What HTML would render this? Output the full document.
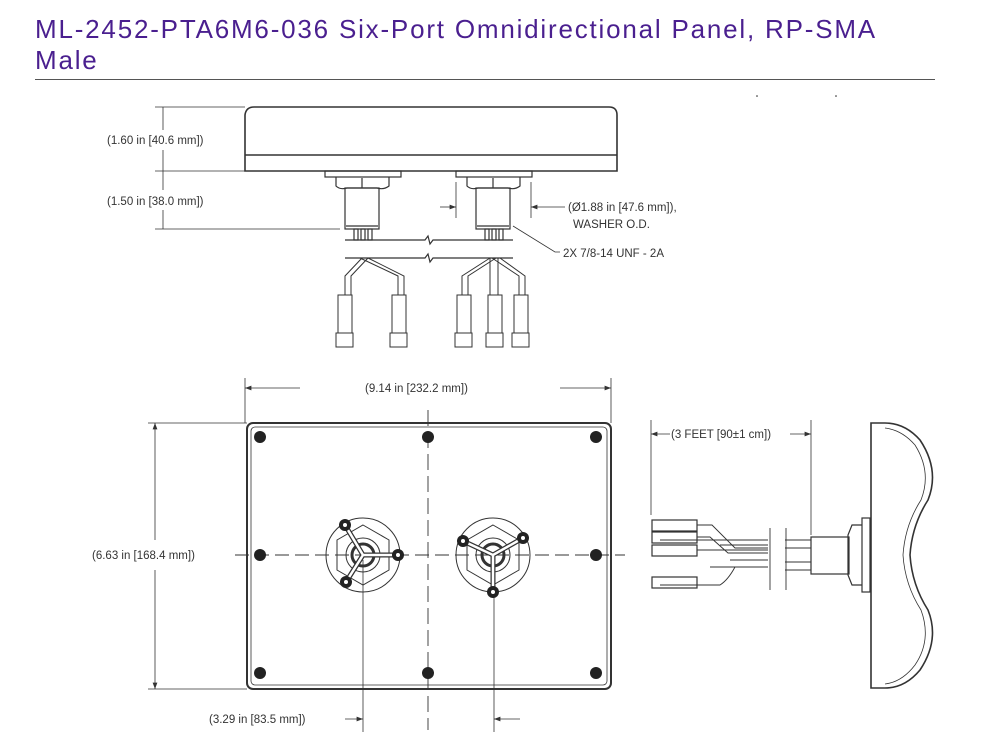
<!DOCTYPE html>
<html><head><meta charset="utf-8"><style>
html,body{margin:0;padding:0;background:#fff;width:999px;height:742px;overflow:hidden}
h1{position:absolute;left:35px;top:14px;margin:0;font:26px/31px "Liberation Sans",sans-serif;color:#4a1f8f;font-weight:normal;letter-spacing:1.8px}
.rule{position:absolute;left:35px;top:79px;width:900px;height:1px;background:#555}
svg{position:absolute;left:0;top:0}
text{font-family:"Liberation Sans",sans-serif;font-size:11.5px;fill:#333}
</style></head><body>
<h1>ML-2452-PTA6M6-036 Six-Port Omnidirectional Panel, RP-SMA<br>Male</h1>
<div class="rule"></div>
<svg width="999" height="742" viewBox="0 0 999 742">
<defs><marker id="a" markerWidth="8" markerHeight="6" refX="8" refY="3" orient="auto"><path d="M0,0L8,3L0,6z" fill="#333"/></marker></defs>
<g stroke="#333" fill="none" stroke-width="1.2">
<path d="M254,107 H609 Q617,107 617,115 V171 H245 L245,115 Q246,107 254,107" stroke-width="1.6"/>
<line x1="245" y1="155" x2="617" y2="155" stroke-width="1.5"/>
<line x1="155" y1="107" x2="245" y2="107" stroke-width="0.8"/>
<line x1="155" y1="171" x2="245" y2="171" stroke-width="0.8"/>
<line x1="155" y1="229" x2="340" y2="229" stroke-width="0.8"/>
<line x1="163" y1="107" x2="163" y2="130" stroke-width="0.8"/>
<line x1="163" y1="150" x2="163" y2="190" stroke-width="0.8"/>
<line x1="163" y1="210" x2="163" y2="229" stroke-width="0.8"/>
<g id="c1">
<rect x="325" y="171" width="76" height="6"/>
<path d="M336,177 V186 Q340,190 347,188 H377 Q384,190 389,186 V177"/>
<line x1="362" y1="178" x2="362" y2="188"/>
<rect x="345" y="188" width="34" height="41"/>
<line x1="346" y1="226" x2="378" y2="226"/>
<rect x="354" y="229" width="4" height="11"/><rect x="361" y="229" width="4" height="11"/><rect x="368" y="229" width="4" height="11"/>
</g>
<use href="#c1" x="131"/>
<path d="M345,240 H425 L428,236 L430,244 L433,240 H513"/>
<path d="M345,258 H425 L428,254 L430,262 L433,258 H513"/>
<g stroke-width="1">
<path d="M362,258 L345,276 V295 M368,258 L351,276 V295"/>
<path d="M360,258 L398,276 V295 M368,258 L404,276 V295"/>
<rect x="338" y="295" width="14" height="38"/><rect x="336" y="333" width="17" height="14"/>
<rect x="392" y="295" width="14" height="38"/><rect x="390" y="333" width="17" height="14"/>
<path d="M490,258 L462,276 V295 M496,258 L468,276 V295"/>
<path d="M490,258 V295 M498,258 V295"/>
<path d="M492,258 L519,276 V295 M500,258 L525,276 V295"/>
<rect x="457" y="295" width="14" height="38"/><rect x="455" y="333" width="17" height="14"/>
<rect x="488" y="295" width="14" height="38"/><rect x="486" y="333" width="17" height="14"/>
<rect x="514" y="295" width="14" height="38"/><rect x="512" y="333" width="17" height="14"/>
</g>
<line x1="456" y1="182" x2="456" y2="218" stroke-width="0.8"/>
<line x1="531" y1="182" x2="531" y2="218" stroke-width="0.8"/>
<line x1="440" y1="207" x2="456" y2="207" stroke-width="0.8" marker-end="url(#a)"/>
<line x1="565" y1="207" x2="531" y2="207" stroke-width="0.8" marker-end="url(#a)"/>
<path d="M513,226 L555,252 H560" stroke-width="0.8"/>
<rect x="247" y="423" width="364" height="266" rx="6" stroke-width="2"/>
<rect x="251" y="427" width="356" height="258" rx="4" stroke-width="0.8"/>
<line x1="245" y1="378" x2="245" y2="423" stroke-width="0.8"/>
<line x1="611" y1="378" x2="611" y2="423" stroke-width="0.8"/>
<line x1="300" y1="388" x2="245" y2="388" stroke-width="0.8" marker-end="url(#a)"/>
<line x1="560" y1="388" x2="611" y2="388" stroke-width="0.8" marker-end="url(#a)"/>
<line x1="148" y1="423" x2="247" y2="423" stroke-width="0.8"/>
<line x1="148" y1="689" x2="247" y2="689" stroke-width="0.8"/>
<line x1="155" y1="540" x2="155" y2="423" stroke-width="0.8" marker-end="url(#a)"/>
<line x1="155" y1="570" x2="155" y2="689" stroke-width="0.8" marker-end="url(#a)"/>
<line x1="428" y1="410" x2="428" y2="730" stroke-dasharray="16,6" stroke-width="0.9"/>
<line x1="235" y1="555" x2="625" y2="555" stroke-dasharray="14,6" stroke-width="0.9"/>
<line x1="363" y1="560" x2="363" y2="732" stroke-width="0.8"/>
<line x1="494" y1="560" x2="494" y2="732" stroke-width="0.8"/>
<line x1="345" y1="719" x2="363" y2="719" stroke-width="0.8" marker-end="url(#a)"/>
<line x1="520" y1="719" x2="494" y2="719" stroke-width="0.8" marker-end="url(#a)"/>
<g stroke-width="1">
<circle cx="363" cy="555" r="37"/><polygon points="363,525 389,540 389,570 363,585 337,570 337,540"/>
<circle cx="363" cy="555" r="17"/><circle cx="363" cy="555" r="11" stroke-width="3"/>
<path d="M345,525 L363,555 L398,555 M346,582 L363,555" stroke-width="5"/>
<path d="M345,525 L363,555 L398,555 M346,582 L363,555" stroke="#fff" stroke-width="2.5"/>
<circle cx="493" cy="555" r="37"/><polygon points="493,525 519,540 519,570 493,585 467,570 467,540"/>
<circle cx="493" cy="555" r="17"/><circle cx="493" cy="555" r="11" stroke-width="3"/>
<path d="M463,541 L493,555 L523,538 M493,555 V592" stroke-width="5"/>
<path d="M463,541 L493,555 L523,538 M493,555 V592" stroke="#fff" stroke-width="2.5"/>
</g>
</g>
<g fill="#222">
<circle cx="260" cy="437" r="6"/><circle cx="428" cy="437" r="6"/><circle cx="596" cy="437" r="6"/>
<circle cx="260" cy="555" r="6"/><circle cx="596" cy="555" r="6"/>
<circle cx="260" cy="673" r="6"/><circle cx="428" cy="673" r="6"/><circle cx="596" cy="673" r="6"/>
<circle cx="345" cy="525" r="6"/><circle cx="398" cy="555" r="6"/><circle cx="346" cy="582" r="6"/>
<circle cx="463" cy="541" r="6"/><circle cx="523" cy="538" r="6"/><circle cx="493" cy="592" r="6"/>
<circle cx="757" cy="96" r="0.8"/><circle cx="836" cy="96" r="0.8"/>
</g>
<g fill="#fff"><circle cx="345" cy="525" r="2"/><circle cx="398" cy="555" r="2"/><circle cx="346" cy="582" r="2"/><circle cx="463" cy="541" r="2"/><circle cx="523" cy="538" r="2"/><circle cx="493" cy="592" r="2"/></g>
<g stroke="#333" fill="none" stroke-width="1.2">
<line x1="651" y1="420" x2="651" y2="515" stroke-width="0.8"/>
<line x1="811" y1="420" x2="811" y2="535" stroke-width="0.8"/>
<line x1="670" y1="434" x2="651" y2="434" stroke-width="0.8" marker-end="url(#a)"/>
<line x1="790" y1="434" x2="811" y2="434" stroke-width="0.8" marker-end="url(#a)"/>
<path d="M871,423 V688 H885 Q905,688 920,670 Q940,640 928,610 Q912,585 910,555 Q912,525 928,500 Q940,470 920,440 Q905,423 885,423 Z" stroke-width="1.6"/>
<path d="M885,428 Q902,430 915,445 Q932,472 921,500 Q905,525 903,555 Q905,585 921,610 Q932,640 915,665 Q902,682 885,684" stroke-width="0.8"/>
<rect x="862" y="518" width="8" height="74"/>
<path d="M862,525 H852 L848,535 V575 L852,585 H862"/>
<rect x="811" y="537" width="38" height="37"/>
<path d="M785,540 H811 M785,548 H811 M785,562 H811 M785,570 H811" stroke-width="0.9"/>
<path d="M768,540 H660 M768,545 H720 M768,560 H730 M768,567 H710 M735,567 Q728,580 720,585 H660" stroke-width="0.9"/>
<path d="M770,528 V590 M786,528 V590" stroke-width="0.9"/>
<rect x="652" y="520" width="45" height="11"/><rect x="652" y="532" width="45" height="11"/>
<rect x="652" y="545" width="45" height="11"/><rect x="652" y="577" width="45" height="11"/>
<path d="M697,525 H712 L735,548 H768 M697,537 H710 L728,553 H768 M697,550 H768" stroke-width="0.9"/>
</g>
<text x="107" y="144">(1.60 in [40.6 mm])</text>
<text x="107" y="205">(1.50 in [38.0 mm])</text>
<text x="568" y="211">(Ø1.88 in [47.6 mm]),</text>
<text x="573" y="228">WASHER O.D.</text>
<text x="563" y="257">2X 7/8-14 UNF - 2A</text>
<text x="365" y="392">(9.14 in [232.2 mm])</text>
<text x="92" y="559">(6.63 in [168.4 mm])</text>
<text x="209" y="723">(3.29 in [83.5 mm])</text>
<text x="671" y="438">(3 FEET [90±1 cm])</text>
</svg>
</body></html>
